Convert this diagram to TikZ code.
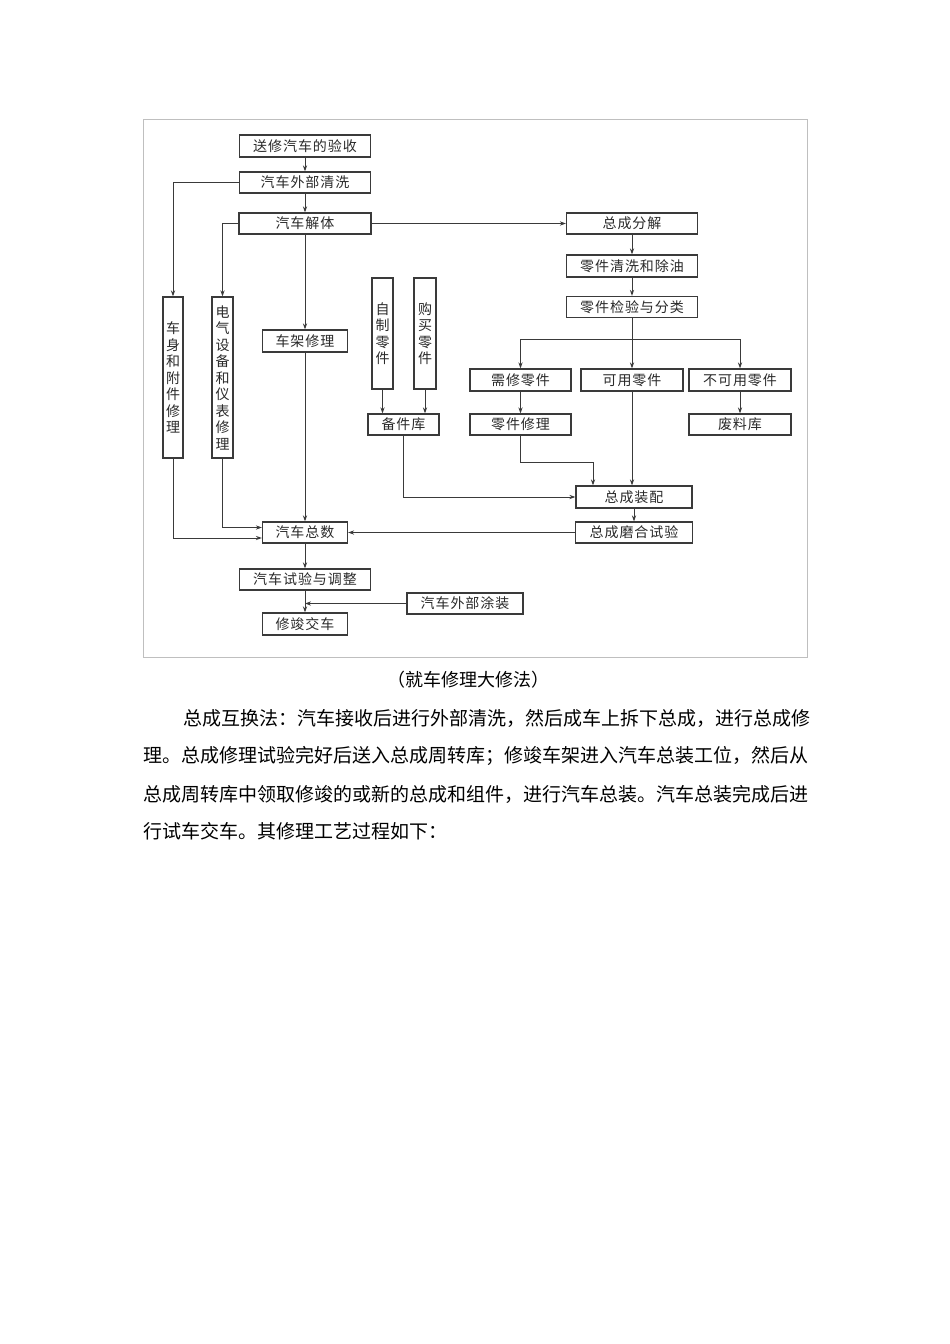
\documentclass[tikz,border=0pt]{standalone}
\usepackage{fontspec}
\newfontfamily\cjk{Noto Sans CJK SC}
\newfontfamily\cjkbox[LetterSpace=7]{Noto Sans CJK SC}
\usetikzlibrary{arrows.meta,calc}
\definecolor{ln}{HTML}{3A3A3A}
\definecolor{tx}{HTML}{2A2A2A}
\tikzset{
  bx/.style={draw=ln, line width=1.2pt, inner sep=0pt, text=tx,
    font=\cjkbox\fontsize{14}{16}\selectfont},
  vbx/.style={bx, align=center, font=\cjk\fontsize{14}{16.5}\selectfont},
  arr/.style={draw=ln, line width=1pt, -{Stealth[length=6pt,width=4.2pt]}},
  ln0/.style={draw=ln, line width=1pt},
  body/.style={anchor=west, inner sep=0pt, text=black, font=\cjk\fontsize{19}{19}\selectfont}
}
\begin{document}
\begin{tikzpicture}[x=1pt,y=-1pt]
\useasboundingbox (0,0) rectangle (950,1344);
\fill[white] (0,0) rectangle (950,1344);
\draw[black!25, line width=0.8pt] (143,119) rectangle (807,657);

% main column
\node[bx, minimum width=131pt, minimum height=22pt] (n1) at (305,146) {送修汽车的验收};
\node[bx, minimum width=131pt, minimum height=21pt] (n2) at (305,182.5) {汽车外部清洗};
\node[bx, minimum width=132pt, minimum height=21pt] (n3) at (305,223.5) {汽车解体};
\node[bx, minimum width=85pt, minimum height=22pt] (jia) at (305,341) {车架修理};
\node[bx, minimum width=85pt, minimum height=21pt] (zs) at (305,532.5) {汽车总数};
\node[bx, minimum width=131pt, minimum height=21pt] (sy) at (305,579.5) {汽车试验与调整};
\node[bx, minimum width=85pt, minimum height=22pt] (xj) at (305,624) {修竣交车};
\node[bx, minimum width=116pt, minimum height=21pt] (tz) at (465,603.5) {汽车外部涂装};

% vertical boxes
\node[vbx, minimum width=20pt, minimum height=161pt] (shen) at (173,377.5) {车\\身\\和\\附\\件\\修\\理};
\node[vbx, minimum width=21pt, minimum height=161pt] (dian) at (222.5,377.5) {电\\气\\设\\备\\和\\仪\\表\\修\\理};
\node[vbx, minimum width=21pt, minimum height=111pt] (zz) at (382.5,333.5) {自\\制\\零\\件};
\node[vbx, minimum width=22pt, minimum height=111pt] (gm) at (425,333.5) {购\\买\\零\\件};
\node[bx, minimum width=71pt, minimum height=21pt] (bjk) at (403.5,424.5) {备件库};

% right column
\node[bx, minimum width=131pt, minimum height=21pt] (zfj) at (632,223.5) {总成分解};
\node[bx, minimum width=131pt, minimum height=22pt] (qx) at (632,266) {零件清洗和除油};
\node[bx, minimum width=131pt, minimum height=21pt] (jy) at (632,307) {零件检验与分类};
\node[bx, minimum width=101pt, minimum height=22pt] (xx) at (520.5,380) {需修零件};
\node[bx, minimum width=102pt, minimum height=22pt] (kyl) at (632,380) {可用零件};
\node[bx, minimum width=102pt, minimum height=22pt] (bky) at (740,380) {不可用零件};
\node[bx, minimum width=101pt, minimum height=21pt] (lxl) at (520.5,424.5) {零件修理};
\node[bx, minimum width=102pt, minimum height=21pt] (fll) at (740,424.5) {废料库};
\node[bx, minimum width=116pt, minimum height=22pt] (zcz) at (634,497) {总成装配};
\node[bx, minimum width=117pt, minimum height=21pt] (mh) at (634,532.5) {总成磨合试验};

\coordinate (br) at (632,339);
\coordinate (c1) at (593,462);

% connectors
\draw[arr] (n1) -- (n2);
\draw[arr] (n2) -- (n3);
\draw[arr] (n2.west) -| (shen.north);
\draw[arr] (n3.west) -| (dian.north);
\draw[arr] (n3) -- (jia);
\draw[arr] (n3.east) -- (zfj.west);
\draw[arr] (zfj) -- (qx);
\draw[arr] (qx) -- (jy);
\draw[ln0] (jy.south) -- (br);
\draw[arr] (br) -| (xx.north);
\draw[arr] (br) -| (bky.north);
\draw[arr] (br) -- (kyl.north);
\draw[arr] (xx) -- (lxl);
\draw[arr] (bky) -- (fll);
\draw[arr] (zz.south) -- (zz.south |- bjk.north);
\draw[arr] (gm.south) -- (gm.south |- bjk.north);
\draw[arr] (bjk.south) |- (zcz.west);
\draw[arr] (lxl.south) |- (c1) -- (c1 |- zcz.north);
\draw[arr] (kyl.south) -- (kyl.south |- zcz.north);
\draw[arr] (zcz) -- (mh);
\draw[arr] (mh.west) -- (zs.east);
\draw[arr] (jia) -- (zs);
\draw[arr] (dian.south) |- ([yshift=5pt]zs.west);
\draw[arr] (shen.south) |- ([yshift=-5.5pt]zs.west);
\draw[arr] (zs) -- (sy);
\draw[arr] (sy) -- (xj);
\draw[arr] (tz.west) -- (tz.west -| sy.south);

% caption and text
\node[inner sep=0pt, font=\cjk\fontsize{18}{18}\selectfont] (cap) at (468,680) {（就车修理大修法）};
\node[body] (l1) at (183,718) {总成互换法：汽车接收后进行外部清洗，然后成车上拆下总成，进行总成修};
\node[body] (l2) at (143,756) {理。总成修理试验完好后送入总成周转库；修竣车架进入汽车总装工位，然后从};
\node[body] (l3) at (143,794) {总成周转库中领取修竣的或新的总成和组件，进行汽车总装。汽车总装完成后进};
\node[body] (l4) at (143,831) {行试车交车。其修理工艺过程如下：};
\end{tikzpicture}
\end{document}
